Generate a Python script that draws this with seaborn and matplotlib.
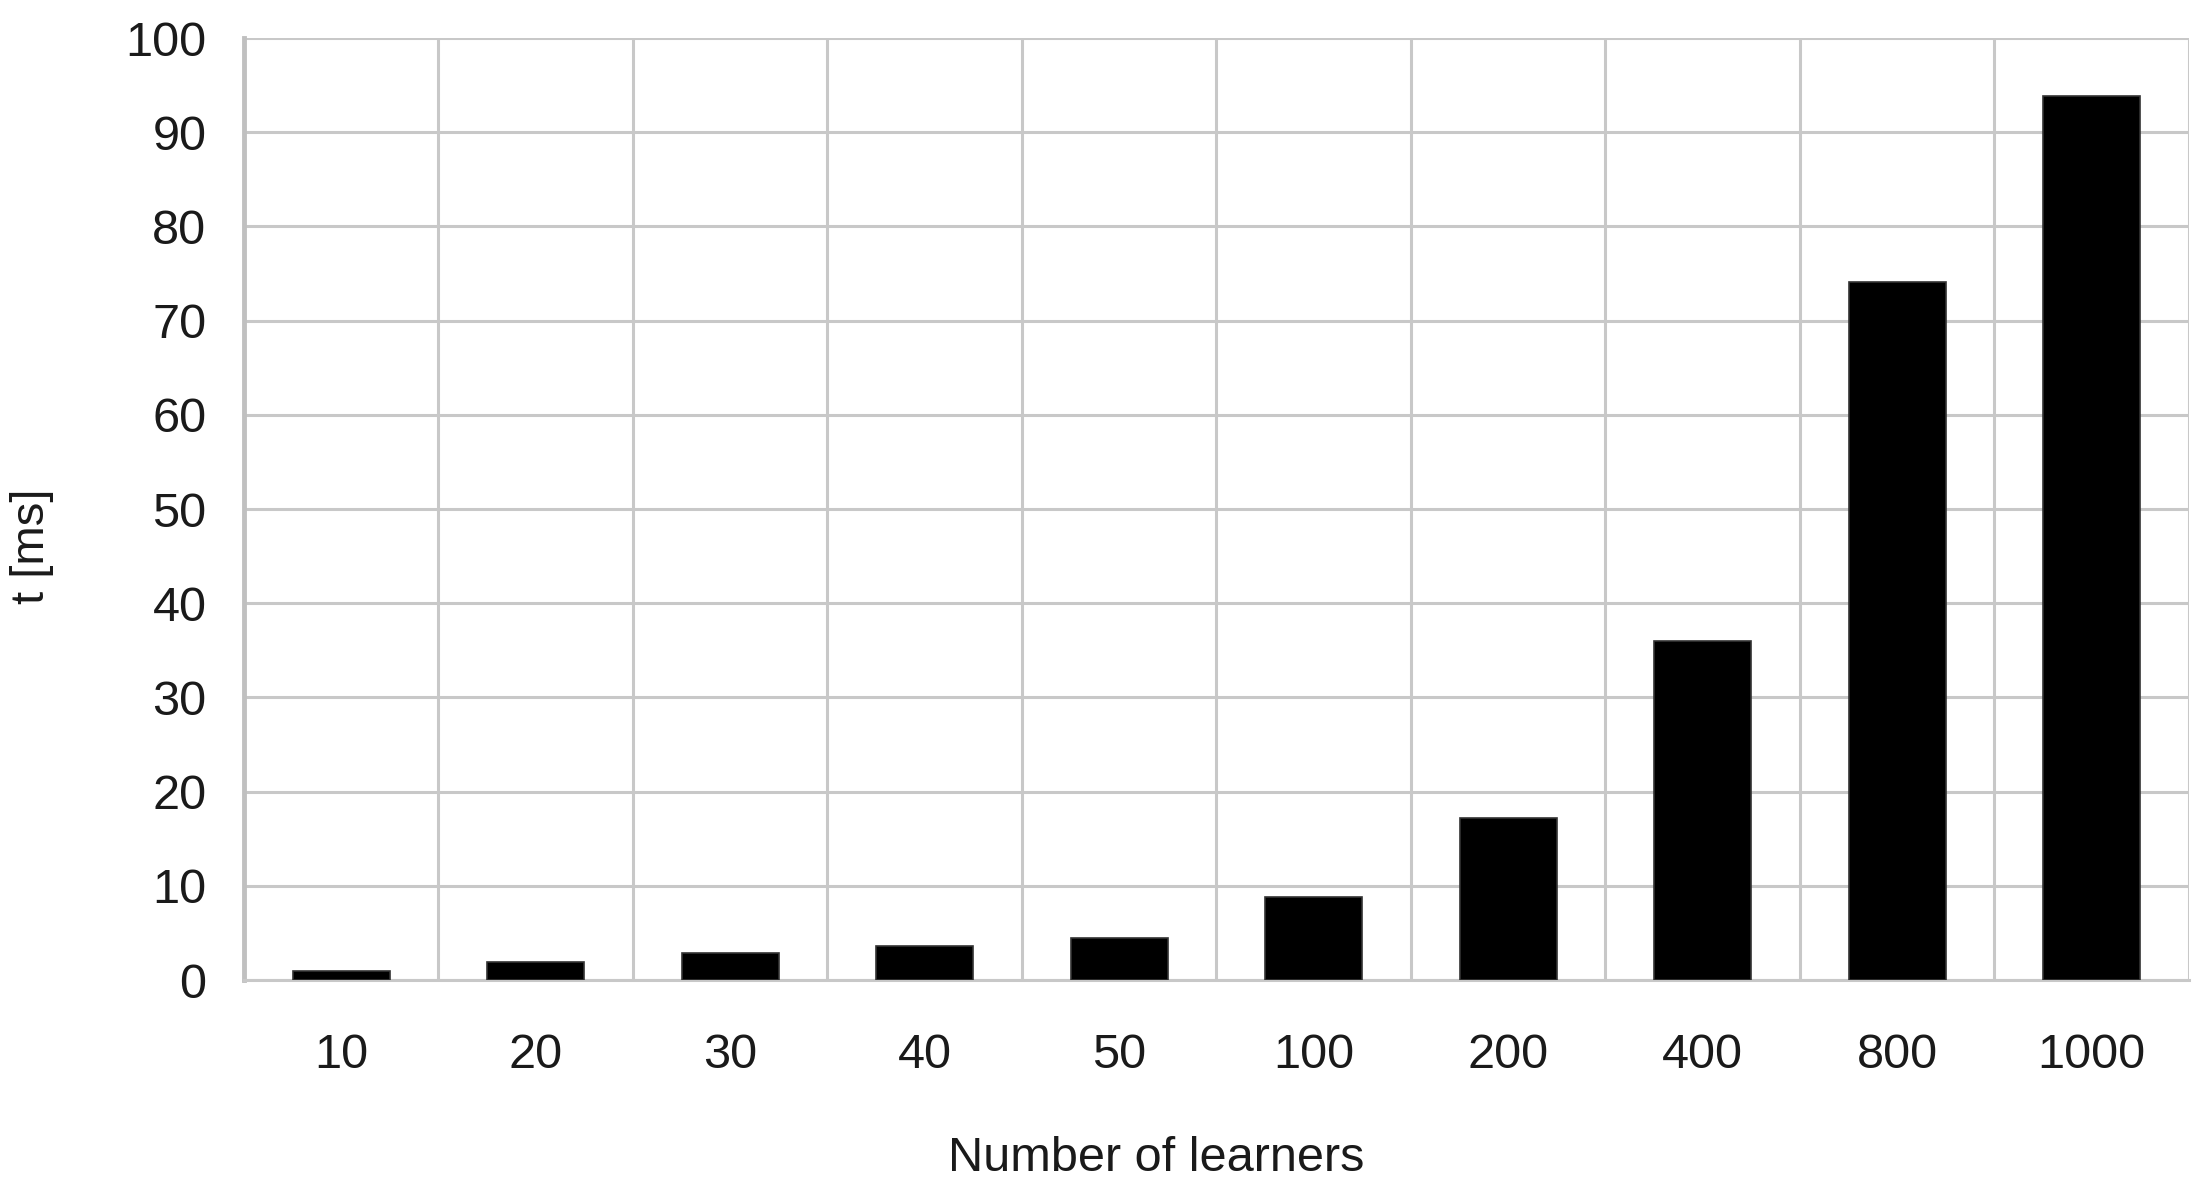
import numpy as np
import pandas as pd
import matplotlib
matplotlib.use("Agg")
import matplotlib.pyplot as plt
import seaborn as sns

learners = ["10", "20", "30", "40", "50", "100", "200", "400", "800", "1000"]
times_ms = [1.0, 1.9, 2.9, 3.6, 4.5, 8.8, 17.2, 36.0, 74.1, 93.8]
y_ticks = [0, 10, 20, 30, 40, 50, 60, 70, 80, 90, 100]

sns.set_style("white")
plt.rcParams["font.family"] = ["Liberation Sans", "DejaVu Sans"]

df = pd.DataFrame({"learners": learners, "t": times_ms})

fig = plt.figure(figsize=(22.12, 12), dpi=100)
ax = fig.add_axes([0.1103, 0.1833, 0.8793, 0.785])

grid_c = "#c8c8c8"
sns.barplot(data=df, x="learners", y="t", color="black", width=0.5,
            edgecolor="#333333", linewidth=1.2, saturation=1, ax=ax, zorder=3)

ax.set_xlim(-0.5, len(learners) - 0.5)
ax.set_ylim(0, 100)
ax.set_yticks(y_ticks)
ax.set_yticklabels([str(v) for v in y_ticks])

ax.set_xticks(np.arange(-0.5, len(learners), 1), minor=True)
ax.grid(False)
ax.grid(True, axis="x", which="minor", color=grid_c, linewidth=2.2, zorder=0)
ax.grid(True, axis="y", which="major", color=grid_c, linewidth=2.2, zorder=0)
ax.set_axisbelow(True)

ax.tick_params(axis="x", which="major", length=0, pad=38, labelsize=35, labelcolor="#1a1a1a")
ax.tick_params(axis="x", which="minor", length=17, width=2.2, color=grid_c, direction="out")
ax.tick_params(axis="y", which="major", length=19, width=2.2, color=grid_c, pad=8,
               labelsize=35, labelcolor="#1a1a1a", direction="out")

for s in ["top", "right"]:
    ax.spines[s].set_visible(False)
ax.spines["left"].set_color("#c0c0c0")
ax.spines["left"].set_linewidth(3.5)
ax.spines["bottom"].set_color(grid_c)
ax.spines["bottom"].set_linewidth(2.2)
ax.spines["left"].set_zorder(1)

ax.set_xlabel("Number of learners", fontsize=35, color="#1a1a1a")
ax.set_ylabel("t [ms]", fontsize=34, color="#1a1a1a")
ax.xaxis.set_label_coords(0.469, -0.166)
ax.yaxis.set_label_coords(-0.0977, 0.461)

fig.savefig("out.png", dpi=100)
